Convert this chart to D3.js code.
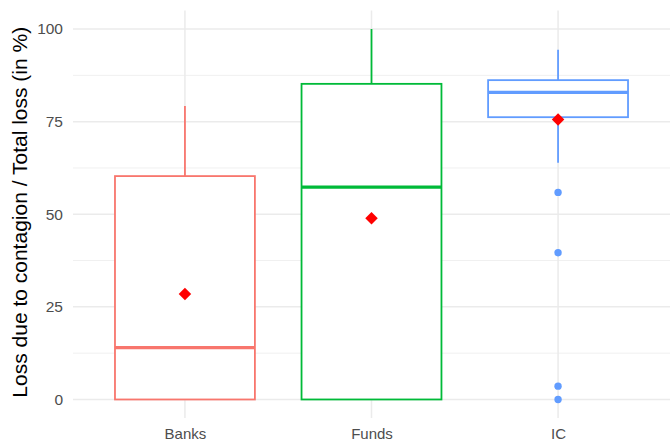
<!DOCTYPE html>
<html>
<head>
<meta charset="utf-8">
<script src="https://cdn.jsdelivr.net/npm/d3@7"></script>
<style>
  body { margin: 0; background: #fff; }
  text { font-family: "Liberation Sans", Arial, sans-serif; }
</style>
</head>
<body>
<div id="chart"></div>
<script>
// box statistics (in %)
const categories = ["Banks", "Funds", "IC"];
const colours = ["#F8766D", "#00BA38", "#619CFF"];
const lowerWhisker = [0, 0, 63.9];
const q1 = [0, 0, 76.2];
const medians = [14.0, 57.3, 82.9];
const q3 = [60.3, 85.2, 86.2];
const upperWhisker = [79.2, 100, 94.4];
const means = [28.5, 48.9, 75.6];
const outliers = [[], [], [55.9, 39.6, 3.6, 0]];
const yTicks = [0, 25, 50, 75, 100];
const yMinor = [12.5, 37.5, 62.5, 87.5];

const width = 670, height = 445;
const margin = { top: 10.5, right: 0, bottom: 27, left: 73 };

const svg = d3.select("#chart").append("svg")
  .attr("width", width)
  .attr("height", height);

const y = d3.scaleLinear()
  .domain([-5, 105])
  .range([height - margin.bottom, margin.top]);

const x = d3.scalePoint()
  .domain(categories)
  .range([margin.left, width - margin.right])
  .padding(0.6);

const step = x.step();
const boxW = step * 0.75;

// grid
svg.append("g").selectAll("line.minor")
  .data(yMinor).enter().append("line")
  .attr("x1", margin.left).attr("x2", width - margin.right)
  .attr("y1", d => y(d)).attr("y2", d => y(d))
  .attr("stroke", "#f0f0f0").attr("stroke-width", 1);

svg.append("g").selectAll("line.major")
  .data(yTicks).enter().append("line")
  .attr("x1", margin.left).attr("x2", width - margin.right)
  .attr("y1", d => y(d)).attr("y2", d => y(d))
  .attr("stroke", "#ebebeb").attr("stroke-width", 1.5);

svg.append("g").selectAll("line.vgrid")
  .data(categories).enter().append("line")
  .attr("x1", d => x(d)).attr("x2", d => x(d))
  .attr("y1", margin.top).attr("y2", height - margin.bottom)
  .attr("stroke", "#ebebeb").attr("stroke-width", 1.5);

// axes labels
const yAxis = d3.axisLeft(y).tickValues(yTicks).tickSize(0).tickPadding(10);
svg.append("g")
  .attr("transform", `translate(${margin.left},0)`)
  .call(yAxis)
  .call(g => g.select(".domain").remove())
  .selectAll("text")
  .attr("fill", "#4d4d4d")
  .style("font-size", "15.5px");

const xAxis = d3.axisBottom(x).tickSize(0).tickPadding(10);
svg.append("g")
  .attr("transform", `translate(0,${height - margin.bottom})`)
  .call(xAxis)
  .call(g => g.select(".domain").remove())
  .selectAll("text")
  .attr("fill", "#4d4d4d")
  .style("font-size", "15px");

svg.append("text")
  .attr("transform", `translate(27,${(y(0) + y(100)) / 2 - 2}) rotate(-90)`)
  .attr("text-anchor", "middle")
  .style("font-size", "21px")
  .attr("fill", "#000")
  .text("Loss due to contagion / Total loss (in %)");

// boxes
const boxes = svg.append("g").selectAll("g.box")
  .data(categories).enter().append("g");

boxes.append("line")
  .attr("x1", d => x(d)).attr("x2", d => x(d))
  .attr("y1", (d, i) => y(q3[i])).attr("y2", (d, i) => y(upperWhisker[i]))
  .attr("stroke", (d, i) => colours[i]).attr("stroke-width", 1.8);

boxes.append("line")
  .attr("x1", d => x(d)).attr("x2", d => x(d))
  .attr("y1", (d, i) => y(q1[i])).attr("y2", (d, i) => y(lowerWhisker[i]))
  .attr("stroke", (d, i) => colours[i]).attr("stroke-width", 1.8);

boxes.append("rect")
  .attr("x", d => x(d) - boxW / 2)
  .attr("width", boxW)
  .attr("y", (d, i) => y(q3[i]))
  .attr("height", (d, i) => y(q1[i]) - y(q3[i]))
  .attr("fill", "#fff")
  .attr("stroke", (d, i) => colours[i]).attr("stroke-width", 1.8);

boxes.append("line")
  .attr("x1", d => x(d) - boxW / 2).attr("x2", d => x(d) + boxW / 2)
  .attr("y1", (d, i) => y(medians[i])).attr("y2", (d, i) => y(medians[i]))
  .attr("stroke", (d, i) => colours[i]).attr("stroke-width", 3.2);

// outliers
categories.forEach((c, i) => {
  svg.append("g").selectAll("circle")
    .data(outliers[i]).enter().append("circle")
    .attr("cx", x(c)).attr("cy", d => y(d)).attr("r", 3.7)
    .attr("fill", colours[i]);
});

// means
svg.append("g").selectAll("path.mean")
  .data(categories).enter().append("path")
  .attr("d", d3.symbol(d3.symbolSquare, 78)())
  .attr("transform", (d, i) => `translate(${x(d)},${y(means[i])}) rotate(45)`)
  .attr("fill", "#ff0000");
</script>
</body>
</html>
